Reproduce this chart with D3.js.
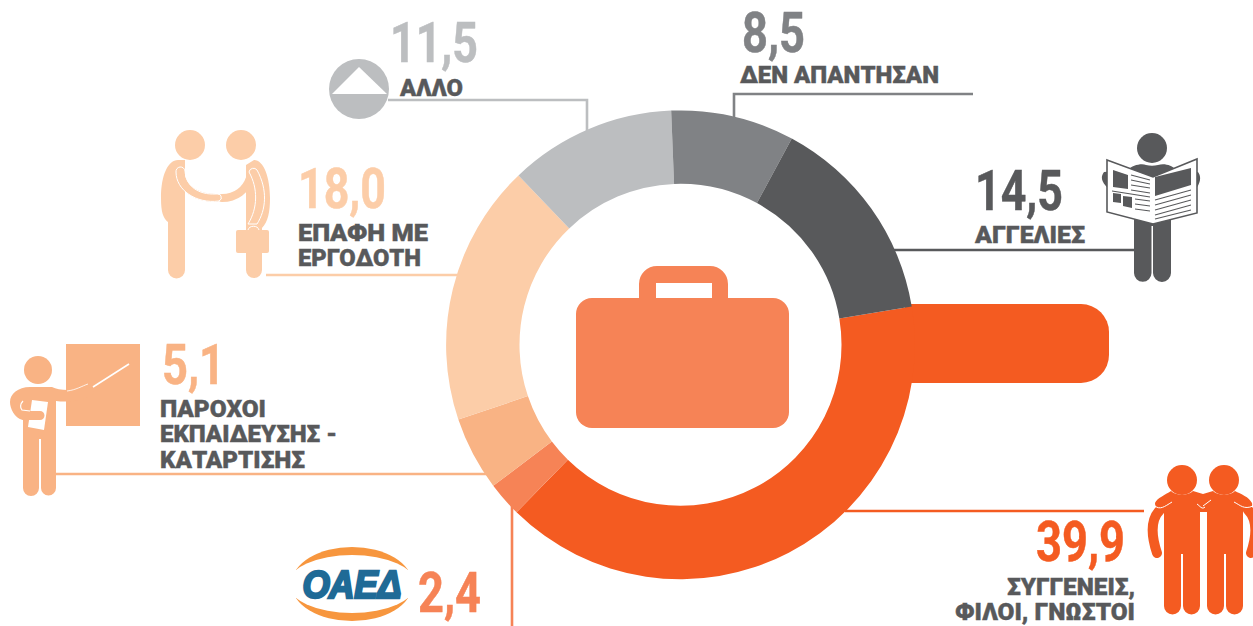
<!DOCTYPE html>
<html>
<head>
<meta charset="utf-8">
<script src="https://cdn.jsdelivr.net/npm/d3@7"></script>
<style>
    html, body { margin: 0; padding: 0; background: #fff; }
    svg { display: block; }
    .num { font-family: "Liberation Sans Narrow", "Roboto", sans-serif; font-weight: 700; font-size: 56px; stroke-width: 0.5; }
    .lab { font-family: "Roboto", "Liberation Sans", sans-serif; font-weight: 900; font-size: 23px; fill: #58595b; stroke: #58595b; stroke-width: 0.4; }
</style>
</head>
<body>
<svg id="chart" width="1253" height="626"></svg>
<script>
var categories = ['ΣΥΓΓΕΝΕΙΣ, ΦΙΛΟΙ, ΓΝΩΣΤΟΙ', 'ΟΑΕΔ', 'ΠΑΡΟΧΟΙ ΕΚΠΑΙΔΕΥΣΗΣ - ΚΑΤΑΡΤΙΣΗΣ', 'ΕΠΑΦΗ ΜΕ ΕΡΓΟΔΟΤΗ', 'ΑΛΛΟ', 'ΔΕΝ ΑΠΑΝΤΗΣΑΝ', 'ΑΓΓΕΛΙΕΣ'];
var values = [39.9, 2.4, 5.1, 18.0, 11.5, 8.5, 14.5];
var valueLabels = ['39,9', '2,4', '5,1', '18,0', '11,5', '8,5', '14,5'];
var colors = ['#f45b21', '#f68356', '#f9b384', '#fccda8', '#bcbec0', '#808285', '#58595b'];

var svg = d3.select('#chart');
var color = d3.scaleOrdinal(categories, colors);
var cx = 680.5, cy = 344.8, outerR = 234.4, innerR = 161;

// leader lines go under the ring
var leaders = [
    [[845, 511], [1144, 511]],
    [[512, 500], [512, 626]],
    [[55, 474], [490, 474]],
    [[266, 275], [462, 275]],
    [[388, 100], [587, 100], [587, 135]],
    [[973, 94], [734, 94], [734, 125]],
    [[890, 250], [1136, 250]]
];
svg.selectAll('path.leader').data(leaders).enter().append('path')
    .attr('class', 'leader')
    .attr('fill', 'none')
    .attr('stroke-width', 2.6)
    .attr('stroke', function (d, i) { return color(categories[i]); })
    .attr('d', d3.line());

// tab sticking out of the biggest slice
svg.append('path')
    .attr('fill', color(categories[0]))
    .attr('d', 'M905,304H1081a28,28 0 0 1 28,28V355a28,28 0 0 1 -28,28H905Z');

var pie = d3.pie().sort(null)
    .startAngle(80.6 * Math.PI / 180)
    .endAngle(440.6 * Math.PI / 180);
var arc = d3.arc().innerRadius(innerR).outerRadius(outerR);

svg.append('g')
    .attr('transform', 'translate(' + cx + ',' + cy + ')')
    .selectAll('path')
    .data(pie(values))
    .enter().append('path')
    .attr('fill', function (d, i) { return color(categories[i]); })
    .attr('d', arc);

// values: x, baseline, anchor, width
var valuePos = [
    [1125, 561, 'end', 89],
    [418, 612, 'start', 63],
    [162, 384, 'start', 63],
    [298, 208, 'start', 88],
    [390, 62, 'start', 88],
    [742, 52, 'start', 63],
    [975, 210, 'start', 88]
];
svg.selectAll('text.num').data(valueLabels).enter().append('text')
    .attr('class', 'num')
    .attr('x', function (d, i) { return valuePos[i][0]; })
    .attr('y', function (d, i) { return valuePos[i][1]; })
    .attr('text-anchor', function (d, i) { return valuePos[i][2]; })
    .attr('textLength', function (d, i) { return valuePos[i][3]; })
    .attr('lengthAdjust', 'spacingAndGlyphs')
    .attr('fill', function (d, i) { return color(categories[i]); })
    .attr('stroke', function (d, i) { return color(categories[i]); })
    .text(function (d) { return d; });

// label lines: text, x, baseline, anchor, width
var labelLines = [
    ['ΣΥΓΓΕΝΕΙΣ,', 1135, 595, 'end', 128],
    ['ΦΙΛΟΙ, ΓΝΩΣΤΟΙ', 1135, 620, 'end', 180],
    ['ΠΑΡΟΧΟΙ', 160, 417, 'start', 106],
    ['ΕΚΠΑΙΔΕΥΣΗΣ -', 160, 442, 'start', 177],
    ['ΚΑΤΑΡΤΙΣΗΣ', 160, 468, 'start', 145],
    ['ΕΠΑΦΗ ΜΕ', 298, 241, 'start', 130],
    ['ΕΡΓΟΔΟΤΗ', 298, 266, 'start', 123],
    ['ΑΛΛΟ', 400, 96, 'start', 63],
    ['ΔΕΝ ΑΠΑΝΤΗΣΑΝ', 740, 83, 'start', 199],
    ['ΑΓΓΕΛΙΕΣ', 975, 243, 'start', 110]
];
svg.selectAll('text.lab').data(labelLines).enter().append('text')
    .attr('class', 'lab')
    .attr('x', function (d) { return d[1]; })
    .attr('y', function (d) { return d[2]; })
    .attr('text-anchor', function (d) { return d[3]; })
    .attr('textLength', function (d) { return d[4]; })
    .attr('lengthAdjust', 'spacingAndGlyphs')
    .text(function (d) { return d[0]; });

// briefcase in the hole
var caseColor = colors[1];
var brief = svg.append('g').attr('fill', caseColor);
brief.append('rect').attr('x', 576).attr('y', 298).attr('width', 213).attr('height', 130).attr('rx', 16);
brief.append('path').attr('fill-rule', 'evenodd')
    .attr('d', 'M639,299V284a18,18 0 0 1 18,-18H710a18,18 0 0 1 18,18V299ZM656,298H712V283H656Z');

// icon: roof in a circle
var roof = svg.append('g');
roof.append('circle').attr('cx', 359).attr('cy', 89).attr('r', 30).attr('fill', colors[4]);
roof.append('path').attr('fill', '#fff').attr('d', 'M359,67L387,94H332Z');

// icon: handshake
var shake = svg.append('g').attr('fill', colors[3]);
shake.append('circle').attr('cx', 190).attr('cy', 145).attr('r', 15);
shake.append('circle').attr('cx', 241).attr('cy', 145).attr('r', 15);
shake.append('path').attr('d', 'M178,160C168,160 161,175 161,198C161,212 163,218 168,222V270a8,8 0 0 0 17,0V222H185V160Z');
shake.append('path').attr('d', 'M254,160C264,160 270,178 270,198C270,212 268,222 262,228V270a8,8 0 0 1 -16,0V200L246,165Z');
shake.append('path')
    .attr('fill', 'none').attr('stroke', colors[3]).attr('stroke-width', 8).attr('stroke-linecap', 'round')
    .attr('d', 'M180,172C182,188 195,198 216,198');
shake.append('path')
    .attr('fill', 'none').attr('stroke', colors[3]).attr('stroke-width', 8).attr('stroke-linecap', 'round')
    .attr('d', 'M222,198C236,198 246,190 250,178');
shake.append('path')
    .attr('fill', 'none').attr('stroke', '#fff').attr('stroke-width', 1)
    .attr('d', 'M176,172a4.5,4.5 0 0 1 9,-1C186,186 198,195 216,194a3.5,3.5 0 0 1 3,7C196,204 176,190 176,172Z');
shake.append('path')
    .attr('fill', 'none').attr('stroke', '#fff').attr('stroke-width', 1)
    .attr('d', 'M249,172a4.5,4.5 0 0 1 8,-2C268,190 266,210 257,224H248C258,208 258,188 249,172Z');
shake.append('path')
    .attr('fill', 'none').attr('stroke', '#fff').attr('stroke-width', 1)
    .attr('d', 'M248,230C249,225 258,225 259,230');
shake.append('rect').attr('x', 236).attr('y', 230).attr('width', 33).attr('height', 23).attr('rx', 2);

// icon: teacher and board
var teacher = svg.append('g').attr('fill', colors[2]);
teacher.append('rect').attr('x', 66).attr('y', 344).attr('width', 74).attr('height', 82);
teacher.append('circle').attr('cx', 38).attr('cy', 370).attr('r', 14);
teacher.append('path')
    .attr('d', 'M30,387H52C60,391 78,392 90,384L94,392C90,400 70,403 56,401V488a7,7 0 0 1 -15,0V439H39V488a7,7 0 0 1 -16,0V420C14,418 10,408 10,402C10,394 18,387 30,387Z');
teacher.append('path').attr('fill', '#fff').attr('d', 'M32,400L48,402L44,430L28,427Z');
teacher.append('path').attr('d', 'M16,410L22,411H40a4,4 0 0 1 0,9H24C19,419 16,414 16,410Z');
teacher.append('path').attr('fill', 'none').attr('stroke', '#fff').attr('stroke-width', 1.2)
    .attr('d', 'M23,401C20,404 20,408 22,410L30,411');
teacher.append('path').attr('stroke', '#fff').attr('stroke-width', 1.6).attr('d', 'M93,387L129,364');
teacher.append('path').attr('fill', 'none').attr('stroke', '#fff').attr('stroke-width', 0.8).attr('d', 'M67,391C76,390 82,386 88,384');

// icon: reader with newspaper
var reader = svg.append('g').attr('fill', colors[6]);
reader.append('circle').attr('cx', 1152).attr('cy', 148).attr('r', 15);
reader.append('path').attr('d', 'M1128,170C1132,165 1142,163 1146,165C1150,166 1154,166 1158,165C1164,163 1172,165 1176,170L1198,172C1204,180 1196,190 1190,196L1171,200V273a8.5,8.5 0 0 1 -18,0V226H1151.5V273a8.5,8.5 0 0 1 -17.5,0V200L1112,192C1106,186 1098,180 1104,172Z');
reader.append('path').attr('fill', '#fff').attr('stroke', colors[6]).attr('stroke-width', 1.6)
    .attr('d', 'M1107,160L1153,177L1197,159V213L1153,224L1107,212Z');
reader.append('path').attr('d', 'M1113,170L1128,175V189L1113,187ZM1155,177L1191,168V185L1155,196ZM1113,193L1121,194V203L1113,202ZM1123,196L1132,197V208L1123,206Z');
reader.append('path').attr('fill', 'none').attr('stroke', colors[6]).attr('stroke-width', 1.1)
    .attr('d', 'M1131,175L1150,180M1131,180L1150,184M1131,185L1150,188M1131,190L1150,193M1112,191L1150,197M1135,199L1150,201M1135,204L1150,206M1135,209L1150,211M1155,200L1191,190M1155,205L1191,195M1155,210L1191,200M1155,215L1191,205M1155,219L1191,210');

// icon: two friends
var friends = svg.append('g').attr('fill', colors[0]);
friends.append('circle').attr('cx', 1182).attr('cy', 480).attr('r', 15);
friends.append('circle').attr('cx', 1224).attr('cy', 480).attr('r', 15);
friends.append('path').attr('d', 'M1164,512H1200V606a8,8 0 0 1 -17,0V554H1181V606a8,8 0 0 1 -17,0Z');
friends.append('path').attr('d', 'M1207,512H1243V606a8,8 0 0 1 -17,0V554H1224V606a8,8 0 0 1 -17,0Z');
friends.append('path').attr('d', 'M1155,503C1157,498 1165,495 1171,491C1176,496 1188,496 1193,491L1203,494L1213,491C1218,496 1230,496 1235,491C1241,494 1249,497 1252,503C1253,508 1250,508 1246,508L1243,512H1164L1160,508C1157,508 1155,507 1155,503Z');
friends.append('path').attr('fill', 'none').attr('stroke', colors[0]).attr('stroke-width', 10).attr('stroke-linecap', 'round')
    .attr('d', 'M1160,510C1150,520 1151,535 1157,553');
friends.append('path').attr('fill', 'none').attr('stroke', colors[0]).attr('stroke-width', 10).attr('stroke-linecap', 'round')
    .attr('d', 'M1248,510C1258,520 1257,535 1251,553');
friends.append('path').attr('fill', 'none').attr('stroke', '#fff').attr('stroke-width', 1)
    .attr('d', 'M1155,506C1160,510 1164,507 1172,502M1197,504C1200,506 1202,510 1205,507M1234,502C1240,505 1244,510 1253,506M1203,506L1211,500');

// icon: logo
svg.append('clipPath').attr('id', 'logoClip')
    .append('rect').attr('x', -56).attr('y', -40).attr('width', 112).attr('height', 80);
var logo = svg.append('g').attr('transform', 'translate(352,584)');
var logoBand = logo.append('g').attr('clip-path', 'url(#logoClip)');
logoBand.append('ellipse').attr('rx', 60.5).attr('ry', 37).attr('fill', '#f7963e');
logoBand.append('ellipse').attr('rx', 64).attr('ry', 29).attr('fill', '#fff');
logo.append('text')
    .attr('x', 0).attr('y', 14)
    .attr('text-anchor', 'middle')
    .attr('textLength', 99)
    .attr('lengthAdjust', 'spacingAndGlyphs')
    .attr('font-family', '"Liberation Sans", sans-serif')
    .attr('font-weight', 700)
    .attr('font-style', 'italic')
    .attr('font-size', 38)
    .attr('fill', '#1f6a96')
    .attr('stroke', '#1f6a96')
    .attr('stroke-width', 2.4)
    .text('ΟΑΕΔ');
</script>
</body>
</html>
